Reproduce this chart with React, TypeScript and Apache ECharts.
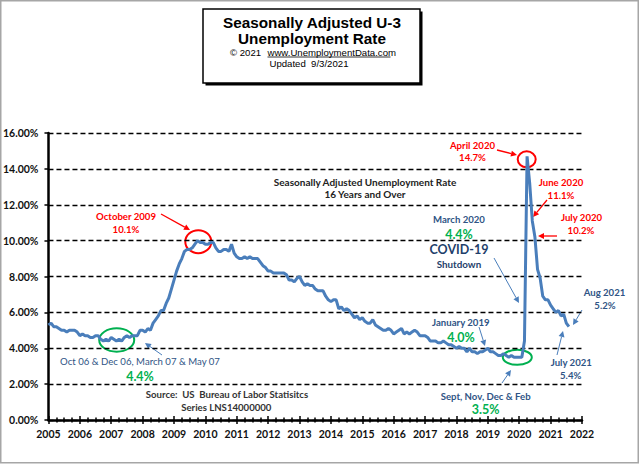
import React, { useEffect, useRef } from "react";
import * as echarts from "echarts";

// Monthly seasonally adjusted U-3 unemployment rate (%), Jan..Dec per year
const startYear = 2005;
const rate2005 = [5.3, 5.4, 5.2, 5.2, 5.1, 5.0, 5.0, 4.9, 5.0, 5.0, 5.0, 4.9];
const rate2006 = [4.7, 4.8, 4.7, 4.7, 4.6, 4.6, 4.7, 4.7, 4.5, 4.4, 4.5, 4.4];
const rate2007 = [4.6, 4.5, 4.4, 4.5, 4.4, 4.6, 4.7, 4.6, 4.7, 4.7, 4.7, 5.0];
const rate2008 = [5.0, 4.9, 5.1, 5.0, 5.4, 5.6, 5.8, 6.1, 6.1, 6.5, 6.8, 7.3];
const rate2009 = [7.8, 8.3, 8.7, 9.0, 9.4, 9.5, 9.5, 9.6, 9.8, 10.0, 9.9, 9.9];
const rate2010 = [9.8, 9.8, 9.9, 9.9, 9.6, 9.4, 9.4, 9.5, 9.5, 9.4, 9.8, 9.3];
const rate2011 = [9.1, 9.0, 9.0, 9.1, 9.0, 9.1, 9.0, 9.0, 9.0, 8.8, 8.6, 8.5];
const rate2012 = [8.3, 8.3, 8.2, 8.2, 8.2, 8.2, 8.2, 8.1, 7.8, 7.8, 7.7, 7.9];
const rate2013 = [8.0, 7.7, 7.5, 7.6, 7.5, 7.5, 7.3, 7.2, 7.2, 7.2, 6.9, 6.7];
const rate2014 = [6.6, 6.7, 6.7, 6.2, 6.3, 6.1, 6.2, 6.1, 5.9, 5.7, 5.8, 5.6];
const rate2015 = [5.7, 5.5, 5.4, 5.4, 5.6, 5.3, 5.2, 5.1, 5.0, 5.0, 5.1, 5.0];
const rate2016 = [4.8, 4.9, 5.0, 5.1, 4.8, 4.9, 4.8, 4.9, 5.0, 4.9, 4.7, 4.7];
const rate2017 = [4.7, 4.6, 4.4, 4.4, 4.4, 4.3, 4.3, 4.4, 4.3, 4.2, 4.2, 4.1];
const rate2018 = [4.0, 4.1, 4.0, 4.0, 3.8, 4.0, 3.8, 3.8, 3.7, 3.8, 3.8, 3.9];
const rate2019 = [4.0, 3.8, 3.8, 3.7, 3.6, 3.6, 3.7, 3.6, 3.5, 3.6, 3.5, 3.5];
const rate2020 = [3.5, 3.5, 4.4, 14.7, 13.2, 11.1, 10.2, 8.4, 7.9, 6.9, 6.7, 6.7];
const rate2021 = [6.4, 6.2, 6.0, 6.1, 5.8, 5.9, 5.4, 5.2];

const yearlyRates = [
  rate2005, rate2006, rate2007, rate2008, rate2009, rate2010, rate2011, rate2012,
  rate2013, rate2014, rate2015, rate2016, rate2017, rate2018, rate2019, rate2020, rate2021,
];

const xMin = 2005;
const xMax = 2022;
const xStep = 1;
const yMin = 0;
const yMax = 16;
const yStep = 2;

const RED = "#ff0000";
const GREEN = "#00b050";
const BLUE_TXT = "#2f5485";
const ARROW_BLUE = "#4a7ebb";
const FONT = "Lato, 'Noto Sans', sans-serif";

function arrow(x1: number, y1: number, x2: number, y2: number, color: string, lw: number) {
  const ang = Math.atan2(y2 - y1, x2 - x1);
  const L = 6;
  const W = 3;
  const bx = x2 - L * Math.cos(ang);
  const by = y2 - L * Math.sin(ang);
  const px = -Math.sin(ang);
  const py = Math.cos(ang);
  return [
    { type: "line", shape: { x1, y1, x2: bx, y2: by }, style: { stroke: color, lineWidth: lw } },
    {
      type: "polygon",
      shape: { points: [[x2, y2], [bx + px * W, by + py * W], [bx - px * W, by - py * W]] },
      style: { fill: color },
    },
  ];
}

function label(text: string, x: number, y: number, color: string, size: number, weight = "bold", family = FONT) {
  return {
    type: "text",
    style: {
      text,
      x,
      y,
      fill: color,
      font: `${weight} ${size}px ${family}`,
      textAlign: "center",
      textVerticalAlign: "middle",
    },
  };
}

function ring(cx: number, cy: number, rx: number, ry: number, color: string) {
  return {
    type: "ellipse",
    shape: { cx, cy, rx, ry },
    style: { fill: "none", stroke: color, lineWidth: 2 },
  };
}

export default function App() {
  const ref = useRef<HTMLDivElement>(null);

  useEffect(() => {
    if (!ref.current) return;
    const chart = echarts.init(ref.current, undefined, { renderer: "svg" });

    const seriesData: number[][] = [];
    yearlyRates.forEach((arr, i) => {
      arr.forEach((v, m) => seriesData.push([startYear + i + m / 12, v]));
    });

    const TITLE_FONT = "'Liberation Sans', Arial, sans-serif";

    const graphics: any[] = [
      // outer frame
      {
        type: "rect",
        shape: { x: 0.75, y: 0.75, width: 637.5, height: 462 },
        style: { fill: "none", stroke: "#a6a6a6", lineWidth: 1.5 },
      },
      // title box shadow & box
      { type: "rect", shape: { x: 205.5, y: 11.5, width: 217, height: 74 }, style: { fill: "#000" } },
      {
        type: "rect",
        shape: { x: 203, y: 9, width: 217, height: 74 },
        style: { fill: "#fff", stroke: "#000", lineWidth: 1.5 },
      },
      label("Seasonally Adjusted U-3", 312, 22, "#000", 15.3, "bold", TITLE_FONT),
      label("Unemployment Rate", 312, 38, "#000", 15.3, "bold", TITLE_FONT),
      {
        type: "text",
        style: {
          text: "© 2021",
          x: 230,
          y: 52,
          fill: "#000",
          font: `normal 9.6px ${TITLE_FONT}`,
          textAlign: "left",
          textVerticalAlign: "middle",
        },
      },
      {
        type: "text",
        style: {
          text: "www.UnemploymentData.com",
          x: 267.5,
          y: 52,
          fill: "#000",
          font: `normal 9.6px ${TITLE_FONT}`,
          textAlign: "left",
          textVerticalAlign: "middle",
        },
      },
      { type: "line", shape: { x1: 267.5, y1: 57, x2: 390.5, y2: 57 }, style: { stroke: "#000", lineWidth: 0.8 } },
      label("Updated  9/3/2021", 309, 63, "#000", 9.6, "normal", TITLE_FONT),

      // annotation text
      label("Seasonally Adjusted Unemployment Rate", 365, 182, "#222", 10),
      label("16 Years and Over", 365, 194, "#222", 10),

      label("October 2009", 126, 216.7, RED, 9.6),
      label("10.1%", 126, 229, RED, 9.6),
      label("April 2020", 472.5, 145, RED, 9.6),
      label("14.7%", 472.5, 157, RED, 9.6),
      label("June 2020", 561, 182.3, RED, 9.6),
      label("11.1%", 561, 195.7, RED, 9.6),
      label("July 2020", 581.5, 217.7, RED, 9.6),
      label("10.2%", 581, 230.7, RED, 9.6),

      label("March 2020", 459, 219, BLUE_TXT, 9.6),
      label("4.4%", 459, 234, GREEN, 12.5),
      label("COVID-19", 459, 249, "#1f3f6b", 12.5),
      label("Shutdown", 459, 264.3, "#1f3f6b", 9.8),

      label("Aug 2021", 604.5, 292.7, BLUE_TXT, 9.6),
      label("5.2%", 605, 305, BLUE_TXT, 9.6),
      label("July 2021", 571.3, 362, BLUE_TXT, 9.6),
      label("5.4%", 570.7, 375, BLUE_TXT, 9.6),
      label("January 2019", 460.8, 322.7, BLUE_TXT, 9.6),
      label("4.0%", 461, 337.3, GREEN, 12.5),
      label("Sept, Nov, Dec & Feb", 485.7, 396, BLUE_TXT, 9.6),
      label("3.5%", 485.7, 409.3, GREEN, 12.5),

      label("Oct 06 & Dec 06, March 07 & May 07", 140, 361, BLUE_TXT, 9.6, "normal"),
      label("4.4%", 140, 376, GREEN, 12.5),
      label("Source:  US  Bureau of Labor Statisitcs", 227, 394.7, "#333", 9.6),
      label("Series LNS14000000", 226.3, 407, "#333", 9.6),

      // circles
      ring(198.3, 241.7, 13, 11.5, RED),
      ring(526.7, 159.3, 9, 8, RED),
      ring(517.3, 357.3, 14.5, 7.5, GREEN),
      ring(116.7, 340, 17.5, 11.7, GREEN),

      // arrows
      ...arrow(161, 214, 190, 230, RED, 1.3),
      ...arrow(497, 150, 517, 155, RED, 1.3),
      ...arrow(547, 200, 533, 217, RED, 1.3),
      ...arrow(557, 236, 538, 236, RED, 1.3),
      ...arrow(494, 258, 519, 303, ARROW_BLUE, 1),
      ...arrow(582, 310, 573, 325, ARROW_BLUE, 1),
      ...arrow(557, 355, 563, 331, ARROW_BLUE, 1),
      ...arrow(479, 327, 485, 346, ARROW_BLUE, 1),
      ...arrow(502, 383, 511, 370, ARROW_BLUE, 1),
      ...arrow(162, 355, 145, 343, ARROW_BLUE, 1),
    ];

    const axisLabelFont = {
      fontFamily: FONT,
      fontWeight: "bold" as const,
      fontSize: 10.5,
      color: "#111",
    };

    chart.setOption({
      animation: false,
      backgroundColor: "#fff",
      grid: { left: 46, right: 58, top: 133, bottom: 45, containLabel: false },
      xAxis: [
        {
          type: "value",
          min: xMin,
          max: xMax,
          interval: xStep,
          axisLine: { show: true, onZero: false, lineStyle: { color: "#000", width: 2.5 } },
          axisTick: { show: true, length: 4, lineStyle: { color: "#000", width: 1.5 } },
          minorTick: { show: true, splitNumber: 4, length: 2.5, lineStyle: { color: "#000", width: 1.5 } },
          splitLine: { show: false },
          axisLabel: { ...axisLabelFont, margin: 8, formatter: (v: number) => String(Math.round(v)) },
        },
        {
          type: "value",
          position: "bottom",
          min: xMin,
          max: xMax,
          interval: xStep,
          axisLine: { show: false, onZero: false },
          axisTick: { show: true, inside: true, length: 4, lineStyle: { color: "#000", width: 1.5 } },
          minorTick: { show: true, splitNumber: 4, length: 2.5, lineStyle: { color: "#000", width: 1.5 } },
          splitLine: { show: false },
          axisLabel: { show: false },
        },
      ],
      yAxis: {
        type: "value",
        min: yMin,
        max: yMax,
        interval: yStep,
        axisLine: { show: true, lineStyle: { color: "#000", width: 2.5 } },
        axisTick: { show: true, length: 4, lineStyle: { color: "#000", width: 1.5 } },
        splitLine: { show: true, lineStyle: { color: "#000", width: 1.3, type: [5, 3] } },
        axisLabel: { ...axisLabelFont, margin: 10, formatter: (v: number) => `${v.toFixed(2)}%` },
      },
      series: [
        {
          type: "line",
          xAxisIndex: 0,
          data: seriesData,
          showSymbol: false,
          symbol: "none",
          lineStyle: { color: "#4a7ebb", width: 3 },
          z: 3,
        },
      ],
      graphic: graphics,
    });

    return () => chart.dispose();
  }, []);

  return (
    <div
      ref={ref}
      style={{ position: "absolute", left: 0, top: 0, width: 640, height: 465, background: "#fff" }}
    />
  );
}
